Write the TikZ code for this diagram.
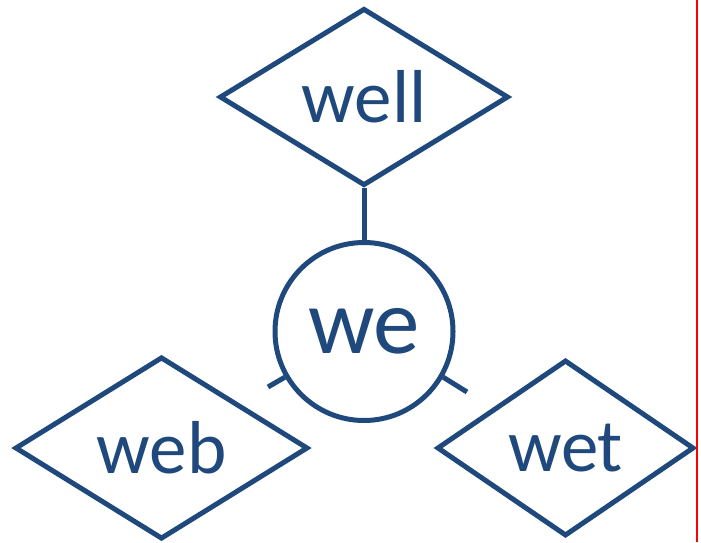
\documentclass[tikz,border=0pt]{standalone}
\usepackage{fontspec}
\setmainfont{Carlito}
\usetikzlibrary{shapes.geometric}
\definecolor{wordblue}{RGB}{31,73,125}

\begin{document}
\begin{tikzpicture}[x=1pt,y=1pt,
  word/.style={diamond, draw=wordblue, line width=5pt, inner sep=0pt, minimum height=176pt, text=wordblue, font=\fontsize{75}{80}\selectfont},
  root/.style={circle, draw=wordblue, line width=5pt, inner sep=0pt, minimum size=178pt, text=wordblue, font=\fontsize{93}{100}\selectfont},
  link/.style={wordblue, line width=5pt}]
\useasboundingbox (0,0) rectangle (701,542);
\node[word, minimum width=289pt] (well) at (364,445) {well};
\node[root] (we) at (364,210.5) {\raisebox{-8pt}{we}};
\node[word, minimum width=293pt] (web) at (161.5,94) {web};
\node[word, minimum width=257pt] (wet) at (565.5,94) {wet};
\coordinate (webstub) at (268,155);
\coordinate (wetstub) at (467,150);
\draw[link] (well.south) -- (we.north);
\draw[link] (we.210) -- (webstub);
\draw[link] (we.-30) -- (wetstub);
% right margin
\draw[red, line width=2pt] (697,0) -- (697,542);
\end{tikzpicture}
\end{document}
